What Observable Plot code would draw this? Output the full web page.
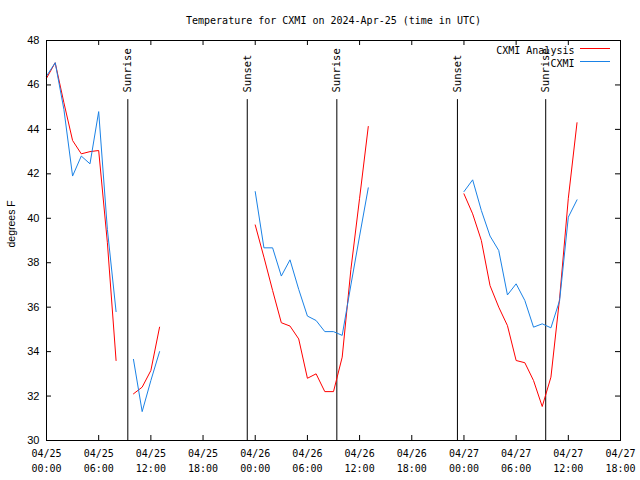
<!DOCTYPE html>
<html><head><meta charset="utf-8">
<script src="https://cdn.jsdelivr.net/npm/d3@7"></script>
<script src="https://cdn.jsdelivr.net/npm/@observablehq/plot@0.6"></script>
<style>body{margin:0;background:#fff}</style>
</head><body><div id="chart"></div>
<script>
const titleText = "Temperature for CXMI on 2024-Apr-25 (time in UTC)";
const yLabelText = "degrees F";
const seriesNames = ["CXMI Analysis", "CXMI"];
const seriesColors = ["#ff0000", "#1a82e6"];
const startTime = "2024-04-25T00:00Z";
// hours after start (null values mark gaps)
const hours = [0,1,2,3,4,5,6,7,8,9,10,11,12,13,14,
  24,25,26,27,28,29,30,31,32,33,34,35,36,37,38,
  48,49,50,51,52,53,54,55,56,57,58,59,60,61];
const analysis = [46.3,47.0,45.2,43.5,42.9,43.0,43.05,38.9,33.6,null,32.1,32.4,33.15,35.1,null,
  39.7,38.25,36.75,35.3,35.15,34.57,32.8,33.0,32.2,32.2,33.75,37.7,40.9,44.13,null,
  41.1,40.2,39.0,36.97,36.0,35.17,33.6,33.5,32.7,31.53,32.85,36.4,40.9,44.3];
const observed = [46.4,47.0,44.9,41.9,42.8,42.45,44.8,39.5,35.8,null,33.65,31.3,32.7,34.0,null,
  41.2,38.67,38.67,37.4,38.13,36.8,35.6,35.4,34.9,34.9,34.73,37.0,39.2,41.37,null,
  41.2,41.73,40.35,39.2,38.55,36.55,37.05,36.3,35.1,35.25,35.07,36.3,40.05,40.83];
const eventNames = ["Sunrise","Sunset","Sunrise","Sunset","Sunrise"];
const eventTimes = ["2024-04-25T09:21Z","2024-04-25T23:05Z","2024-04-26T09:23Z","2024-04-26T23:15Z","2024-04-27T09:24Z"];
const xTickHours = [0,6,12,18,24,30,36,42,48,54,60,66];
const yTicks = [30,32,34,36,38,40,42,44,46,48];
const yDomain = [30,48];

const t0 = new Date(startTime).getTime();
const toDate = h => new Date(t0 + h*3600e3);
const rowsA = hours.map((h,i)=>({time: toDate(h), value: analysis[i]}));
const rowsB = hours.map((h,i)=>({time: toDate(h), value: observed[i]}));
const events = eventNames.map((n,i)=>({name:n, time:new Date(eventTimes[i])}));
const xTicks = xTickHours.map(toDate);

const W = 640, H = 480, mL = 46, mR = 20, mT = 40, mB = 40;
const fw = W-mL-mR, fh = H-mT-mB, tk = 5;
const mono = "DejaVu Sans Mono, monospace";
const sans = "Liberation Sans, Arial, sans-serif";

const plot = Plot.plot({
  width: W, height: H, marginLeft: mL, marginRight: mR, marginTop: mT, marginBottom: mB,
  x: {type: "utc", domain: [xTicks[0], xTicks[xTicks.length-1]]},
  y: {domain: yDomain},
  marks: [
    Plot.axisX(xTicks, {anchor: "bottom", tickSize: 0, tickPadding: 6, label: null,
      tickFormat: d3.utcFormat("%m/%d\n%H:%M"), fontFamily: mono, fontSize: 10, lineHeight: 1.5, fill: "#000"}),
    Plot.axisY(yTicks, {anchor: "left", tickSize: 0, tickPadding: 7, label: null,
      fontFamily: sans, fontSize: 11, fill: "#000"}),
    Plot.tickX(xTicks, {x: d=>d, insetTop: fh-tk, stroke: "#000"}),
    Plot.tickX(xTicks, {x: d=>d, insetBottom: fh-tk, stroke: "#000"}),
    Plot.tickY(yTicks, {y: d=>d, insetRight: fw-tk, stroke: "#000"}),
    Plot.tickY(yTicks, {y: d=>d, insetLeft: fw-tk, stroke: "#000"}),
    Plot.ruleX(events, {x: "time", y1: yDomain[0], y2: 45.34, stroke: "#000"}),
    Plot.text(events, {x: "time", y: 45.66, text: "name", rotate: -90, textAnchor: "start",
      fontFamily: mono, fontSize: 10.5, fill: "#000"}),
    Plot.line(rowsA, {x: "time", y: "value", stroke: seriesColors[0], strokeWidth: 1}),
    Plot.line(rowsB, {x: "time", y: "value", stroke: seriesColors[1], strokeWidth: 1}),
    Plot.frame({stroke: "#000"}),
    Plot.text([titleText], {frameAnchor: "top", dy: -20, lineAnchor: "middle", fontFamily: mono, fontSize: 10, fill: "#000"}),
    Plot.text([yLabelText], {frameAnchor: "left", dx: -35, dy: 7, rotate: -90, fontFamily: sans, fontSize: 10.5, fill: "#000"}),
    Plot.text([seriesNames[0]], {frameAnchor: "top-right", dx: -46, dy: 10, lineAnchor: "middle", textAnchor: "end", fontFamily: mono, fontSize: 10, fill: "#000"}),
    Plot.text([seriesNames[1]], {frameAnchor: "top-right", dx: -46, dy: 23, lineAnchor: "middle", textAnchor: "end", fontFamily: mono, fontSize: 10, fill: "#000"})
  ]
});
document.getElementById("chart").appendChild(plot);
// legend swatches
const svg = d3.select(plot);
seriesColors.forEach((c,i)=>{
  svg.append("line").attr("x1", W-mR-40).attr("x2", W-mR-10)
    .attr("y1", mT+8.5+13*i).attr("y2", mT+8.5+13*i)
    .attr("stroke", c).attr("stroke-width", 1);
});
</script></body></html>
